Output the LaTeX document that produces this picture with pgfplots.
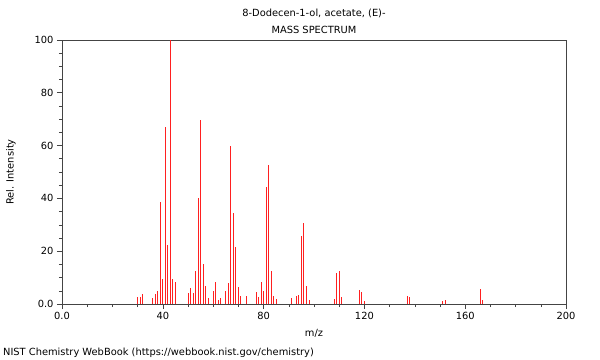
\documentclass[border=0pt]{standalone}
\usepackage{fontspec}
\setmainfont{DejaVu Sans}
\usepackage{pgfplots}
\pgfplotsset{compat=1.18}
\definecolor{axisgray}{HTML}{444444}
\definecolor{peak}{HTML}{FF2020}
\begin{document}
\fontsize{9.9}{12}\selectfont
\begin{tikzpicture}
\begin{axis}[
  at={(0,0)}, anchor=south west,
  scale only axis, width=504bp, height=264bp,
  xmin=0, xmax=200, ymin=0, ymax=100,
  xtick={0,40,80,120,160,200},
  xticklabels={0.0,40,80,120,160,200},
  minor x tick num=3,
  ytick={0,20,40,60,80,100},
  yticklabels={0.0,20,40,60,80,100},
  minor y tick num=3,
  tick align=outside,
  major tick length=5bp, minor tick length=3bp,
  axis line style={axisgray, line width=0.8pt},
  every tick/.style={axisgray, line width=0.6pt},
  tick label style={font=\fontsize{9.9}{12}\selectfont, text=black},
  xtick pos=bottom, ytick pos=left,
  clip=false,
]
\addplot[ycomb, peak, line width=0.9bp, mark=none] coordinates {
(30,2.8) (31,2.8) (32,3.7) (36,2.3) (37,3.8) (38,4.9) (39,38.6) (40,9.3)
(41,67.2) (42,22.3) (43,100) (44,9.3) (45,8.3)
(50,4.0) (51,5.9) (52,4.2) (53,12.5) (54,40.0) (55,69.7) (56,15.0) (57,6.7) (58,2.4)
(60,4.9) (61,8.2) (62,1.5) (63,2.4) (65,4.9) (66,7.8) (67,59.8) (68,34.6) (69,21.7)
(70,6.4) (71,3.0) (73,3.0)
(77,4.4) (78,2.8) (79,8.3) (80,4.9) (81,44.3) (82,52.7) (83,12.5) (84,3.0) (85,1.9)
(91,2.4) (93,3.0) (94,3.4) (95,25.8) (96,30.5) (97,6.9) (98,1.4)
(108,1.9) (109,11.6) (110,12.5) (111,2.7)
(118,5.4) (119,4.4) (120,1.1)
(137,3.0) (138,2.5) (151,1.1) (152,1.6) (166,5.7) (167,1.4)
};
\end{axis}
\node at (252bp,291bp) {8-Dodecen-1-ol, acetate, (E)-};
\node at (252bp,274bp) {MASS SPECTRUM};
\node at (252bp,-29bp) {m/z};
\node[rotate=90] at (-51bp,132bp) {Rel. Intensity};
\node[anchor=west, inner sep=0pt] at (-59bp,-49bp) {NIST Chemistry WebBook (https://webbook.nist.gov/chemistry)};
\path (-62bp,-56bp) rectangle (538bp,304bp);
\end{tikzpicture}
\end{document}
